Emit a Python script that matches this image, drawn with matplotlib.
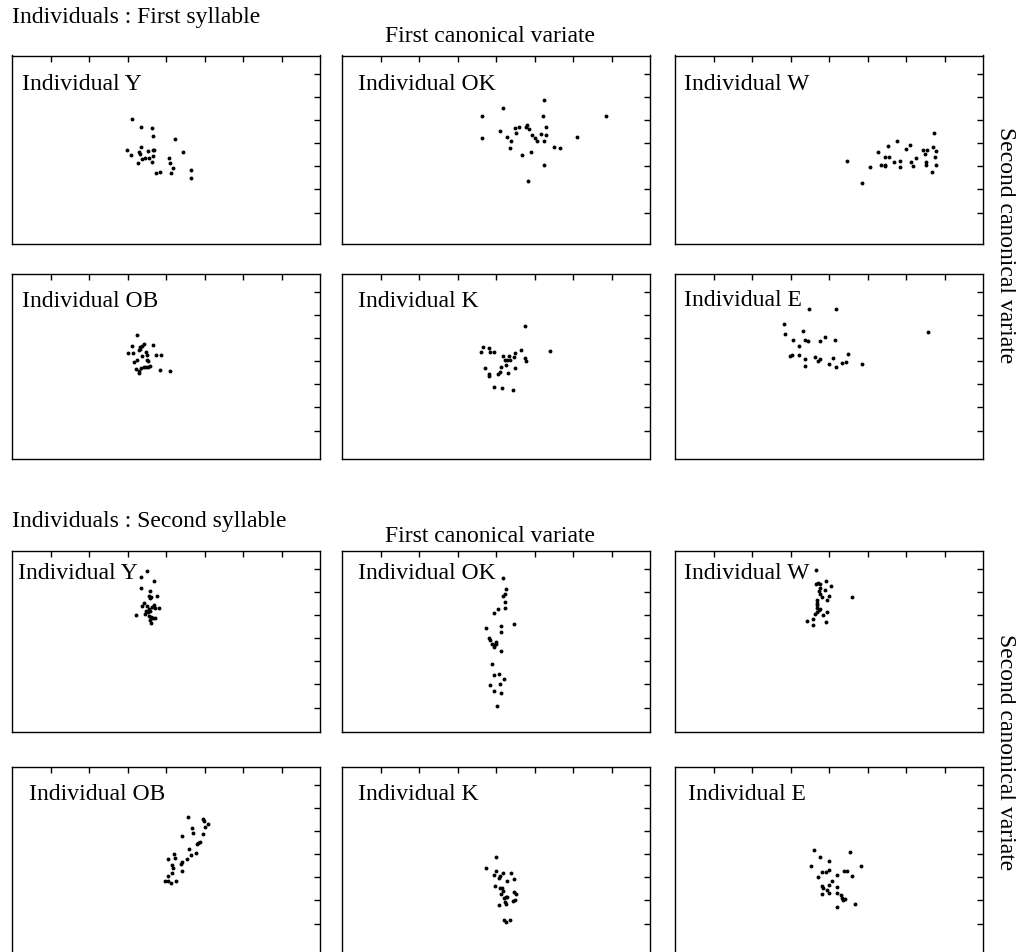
"""Canonical variate scatter grid: six individuals, first and second syllable."""
import matplotlib
matplotlib.use("Agg")
import matplotlib.pyplot as plt

plt.rcParams["font.family"] = ["Liberation Serif", "DejaVu Serif"]

# ---- data: (first canonical variate, second canonical variate) per individual ----
individuals = ["Y", "OK", "W", "OB", "K", "E"]

syl1_Y_cv1 = [-0.88, -0.66, -0.37, -0.33, 0.24, -1.01, -0.92, -0.70, -0.66, -0.68, -0.62, -0.55, -0.47, -0.44,
              -0.35, -0.31, -0.33, -0.37, -0.74, -0.27, -0.16, 0.08, 0.11, 0.18, 0.14, 0.43, 0.65, 0.65]
syl1_Y_cv2 = [1.05, 0.72, 0.65, 0.30, 0.20, -0.29, -0.52, -0.39, -0.15, -0.46, -0.67, -0.65, -0.33, -0.65,
              -0.30, -0.28, -0.54, -0.81, -0.84, -1.29, -1.23, -0.64, -0.85, -1.07, -1.29, -0.38, -1.14, -1.49]

syl1_OK_cv1 = [-0.36, -0.37, 0.17, 1.24, 1.22, 2.87, 0.11, 0.29, 0.38, 0.37, 0.49, 0.59, 0.51, 0.77, 0.81,
               0.87, 0.94, 1.00, 1.07, 1.17, 1.29, 1.30, 1.24, 1.51, 1.66, 2.10, 0.67, 0.92, 1.25, 0.82]
syl1_OK_cv2 = [1.20, 0.22, 1.51, 1.86, 1.20, 1.18, 0.55, 0.27, 0.10, -0.22, 0.66, 0.72, 0.43, 0.69, 0.79,
               0.61, 0.36, 0.23, 0.10, 0.39, 0.72, 0.37, 0.09, -0.16, -0.22, 0.27, -0.52, -0.38, -0.95, -1.62]

syl1_W_cv1 = [0.46, 0.87, 1.07, 1.26, 1.35, 1.46, 1.46, 1.46, 1.57, 1.54, 1.70, 1.76, 1.85, 1.84, 2.00,
              2.10, 2.12, 2.19, 2.25, 2.43, 2.50, 2.55, 2.51, 2.51, 2.69, 2.72, 2.77, 2.75, 2.77, 2.67]
syl1_W_cv2 = [-0.77, -1.72, -1.04, -0.39, -0.93, -0.61, -0.93, -0.98, -0.61, -0.10, -0.82, 0.11, -0.78, -1.04,
              -0.23, -0.07, -0.82, -0.97, -0.65, -0.30, -0.45, -0.28, -0.80, -0.95, -0.15, 0.46, -0.32, -0.61,
              -0.95, -1.24]

syl1_OB_cv1 = [-0.75, -0.88, -0.99, -0.86, -0.68, -0.67, -0.62, -0.58, -0.70, -0.63, -0.52, -0.49, -0.34, -0.25,
               -0.12, -0.82, -0.75, -0.49, -0.47, -0.78, -0.71, -0.70, -0.65, -0.58, -0.52, -0.48, -0.41, -0.15,
               0.11]
syl1_OB_cv2 = [1.15, 0.68, 0.35, 0.35, 0.53, 0.60, 0.67, 0.75, 0.50, 0.22, 0.39, 0.28, 0.71, 0.26, 0.28,
               -0.03, 0.06, 0.04, 0.01, -0.32, -0.40, -0.50, -0.29, -0.24, -0.26, -0.24, -0.19, -0.38, -0.40]

syl1_K_cv1 = [-0.35, -0.38, -0.18, -0.16, -0.05, 0.17, 0.23, 0.29, 0.34, 0.36, 0.27, 0.47, 0.49, 0.65, 0.75,
              0.75, 0.77, 1.40, -0.29, -0.19, -0.17, 0.13, 0.11, 0.05, 0.32, 0.49, -0.04, 0.15, 0.44]
syl1_K_cv2 = [0.60, 0.39, 0.58, 0.42, 0.42, 0.22, 0.04, 0.07, 0.22, 0.06, -0.17, 0.18, 0.38, 0.47, 1.51,
              0.15, 0.01, 0.44, -0.31, -0.64, -0.57, -0.26, -0.47, -0.57, -0.49, -0.28, -1.11, -1.17, -1.24]

syl1_E_cv1 = [-0.52, 0.18, -1.17, -1.15, -0.94, -0.68, -0.62, -0.55, -0.79, -0.23, -0.11, 0.16, -1.01, -0.95,
              -0.79, -0.62, -0.62, -0.37, -0.29, -0.23, 0.01, 0.11, 0.17, 0.35, 0.43, 0.50, 0.87, 2.56]
syl1_E_cv2 = [2.26, 2.27, 1.62, 1.19, 0.93, 1.29, 0.90, 0.88, 0.64, 0.88, 1.06, 0.90, 0.23, 0.26, 0.26, 0.08,
              -0.21, 0.19, 0.03, 0.10, -0.13, 0.15, -0.23, -0.09, -0.03, 0.30, -0.12, 1.26]

syl2_Y_cv1 = [-0.49, -0.65, -0.30, -0.66, -0.41, -0.45, -0.39, -0.42, -0.23, -0.58, -0.62, -0.49, -0.36, -0.32,
              -0.19, -0.45, -0.51, -0.48, -0.41, -0.78, -0.54, -0.43, -0.39, -0.35, -0.29, -0.42, -0.39, -0.28]
syl2_Y_cv2 = [2.93, 2.64, 2.48, 2.16, 2.04, 1.84, 1.77, 1.73, 1.83, 1.51, 1.38, 1.41, 1.36, 1.44, 1.33, 1.26,
              1.19, 1.12, 1.16, 0.99, 1.04, 0.97, 0.90, 0.87, 0.86, 0.78, 0.68, 1.33]

syl2_OK_cv1 = [0.18, 0.27, 0.23, 0.19, 0.23, 0.23, 0.05, -0.04, 0.46, -0.25, 0.12, 0.12, -0.19, -0.15, -0.10,
               -0.05, -0.01, 0.01, -0.04, 0.13, -0.10, -0.04, 0.07, 0.22, -0.15, 0.10, -0.05, 0.14, 0.03]
syl2_OK_cv2 = [2.61, 2.15, 1.91, 1.84, 1.55, 1.30, 1.26, 1.09, 0.62, 0.45, 0.54, 0.26, 0.00, -0.09, -0.23,
               -0.29, -0.15, -0.23, -0.38, -0.55, -1.10, -1.59, -1.54, -1.78, -2.04, -1.97, -2.29, -2.36, -2.91]

syl2_W_cv1 = [-0.34, -0.35, -0.28, -0.23, -0.07, 0.05, -0.23, -0.25, -0.10, -0.23, -0.17, -0.06, 0.00, -0.30,
              -0.30, -0.30, -0.23, -0.27, -0.32, -0.36, -0.15, -0.06, -0.41, -0.56, -0.41, -0.07, 0.60, -0.30]
syl2_W_cv2 = [2.96, 2.33, 2.38, 2.33, 2.48, 2.25, 2.16, 2.04, 2.10, 1.90, 1.77, 1.67, 1.81, 1.65, 1.51, 1.32,
              1.26, 1.22, 1.15, 1.03, 1.00, 1.12, 0.83, 0.75, 0.59, 0.72, 1.78, 1.43]

syl2_OB_cv1 = [0.57, 0.97, 0.98, 1.09, 1.00, 0.68, 0.69, 0.97, 0.42, 0.81, 0.84, 0.88, 0.60, 0.77, 0.65, 0.55,
               0.41, 0.39, 0.20, 0.23, 0.04, 0.16, 0.17, 0.15, 0.05, 0.42, -0.02, 0.04, 0.14, 0.26]
syl2_OB_cv2 = [1.62, 1.52, 1.43, 1.29, 1.16, 1.13, 0.90, 0.88, 0.78, 0.45, 0.48, 0.52, 0.22, 0.06, -0.01,
               -0.19, -0.32, -0.42, 0.01, -0.15, -0.22, -0.48, -0.58, -0.80, -0.94, -0.73, -1.15, -1.16, -1.26,
               -1.15]

syl2_K_cv1 = [0.00, -0.25, 0.00, -0.06, 0.07, 0.11, 0.19, 0.38, 0.29, 0.46, -0.02, 0.10, 0.16, 0.18, 0.14,
              0.20, 0.25, 0.29, 0.47, 0.52, 0.49, 0.44, 0.23, 0.26, 0.07, 0.21, 0.26, 0.36]
syl2_K_cv2 = [-0.10, -0.61, -0.73, -0.90, -1.01, -0.94, -0.81, -0.83, -1.17, -1.09, -1.39, -1.44, -1.45, -1.59,
              -1.71, -1.88, -1.86, -1.84, -1.62, -1.70, -1.96, -2.04, -2.07, -2.16, -2.20, -2.86, -2.91, -2.84]

syl2_E_cv1 = [-0.39, -0.23, 0.00, -0.47, 0.55, 0.83, -0.17, -0.09, 0.00, 0.20, 0.38, 0.46, 0.61, -0.29, 0.07,
              -0.19, -0.15, 0.00, -0.06, 0.20, -0.18, 0.00, 0.22, 0.30, 0.33, 0.37, 0.42, 0.68, 0.22]
syl2_E_cv2 = [0.19, -0.12, -0.28, -0.51, 0.09, -0.51, -0.78, -0.77, -0.67, -0.91, -0.74, -0.74, -0.96, -0.99,
              -1.16, -1.38, -1.45, -1.35, -1.55, -1.42, -1.71, -1.67, -1.67, -1.78, -1.90, -1.96, -1.94, -2.17,
              -2.28]

syllable1 = [(syl1_Y_cv1, syl1_Y_cv2), (syl1_OK_cv1, syl1_OK_cv2), (syl1_W_cv1, syl1_W_cv2),
             (syl1_OB_cv1, syl1_OB_cv2), (syl1_K_cv1, syl1_K_cv2), (syl1_E_cv1, syl1_E_cv2)]
syllable2 = [(syl2_Y_cv1, syl2_Y_cv2), (syl2_OK_cv1, syl2_OK_cv2), (syl2_W_cv1, syl2_W_cv2),
             (syl2_OB_cv1, syl2_OB_cv2), (syl2_K_cv1, syl2_K_cv2), (syl2_E_cv1, syl2_E_cv2)]

# ---- layout (pixels on a 1016 x 953 canvas) ----
FIG_W, FIG_H = 1016, 953
COL_LEFT = [12, 342, 675]
COL_W = 308
ROWS = [(56.5, 245), (274.5, 460), (551.5, 733), (767.5, 990)]  # (top, bottom)
PX_PER_UNIT = 23.1
Y_TOP = 3.8
FS = 17

# label offsets inside each panel (px from left, px from top)
LABEL_DX = [10, 16, 9, 10, 16, 9, 6, 16, 9, 17, 16, 13]
LABEL_DY = [28, 28, 28, 27, 27, 26, 22, 22, 22, 27, 27, 27]


def panel(fig, idx, row, col, xs, ys, name):
    top, bot = ROWS[row]
    h = bot - top
    ax = fig.add_axes([COL_LEFT[col] / FIG_W, 1 - bot / FIG_H, COL_W / FIG_W, h / FIG_H])
    ax.plot(xs, ys, "o", ms=2.8, mew=0, color="black")
    ax.set_xlim(-4, 4)
    ax.set_ylim(Y_TOP - h / PX_PER_UNIT, Y_TOP)
    ax.set_xticks(range(-3, 4))
    ax.set_yticks(range(-3, 4))
    ax.tick_params(direction="in", top=True, right=True, bottom=False, left=False,
                   labelbottom=False, labelleft=False, labeltop=False, labelright=False,
                   length=4.5, width=1.0, color="black")
    for sp in ax.spines.values():
        sp.set_linewidth(1.0)
    ax.text(LABEL_DX[idx] / COL_W, 1 - LABEL_DY[idx] / h, f"Individual {name}",
            transform=ax.transAxes, fontsize=FS, ha="left", va="center", zorder=1)
    return ax


fig = plt.figure(figsize=(FIG_W / 100, FIG_H / 100), dpi=100)

for g, (data, title, y_title, y_sub, y_side) in enumerate([
        (syllable1, "Individuals : First syllable", 18, 36, 245),
        (syllable2, "Individuals : Second syllable", 522, 537, 752)]):
    for i, (name, (xs, ys)) in enumerate(zip(individuals, data)):
        row, col = divmod(i, 3)
        panel(fig, g * 6 + i, g * 2 + row, col, xs, ys, name)
    fig.text(12 / FIG_W, 1 - y_title / FIG_H, title, fontsize=FS, ha="left", va="center")
    fig.text(490 / FIG_W, 1 - y_sub / FIG_H, "First canonical variate", fontsize=FS,
             ha="center", va="center")
    fig.text(1005 / FIG_W, 1 - y_side / FIG_H, "Second canonical variate", fontsize=FS,
             rotation=-90, ha="center", va="center")

fig.savefig("out.png", dpi=100)
plt.close(fig)
